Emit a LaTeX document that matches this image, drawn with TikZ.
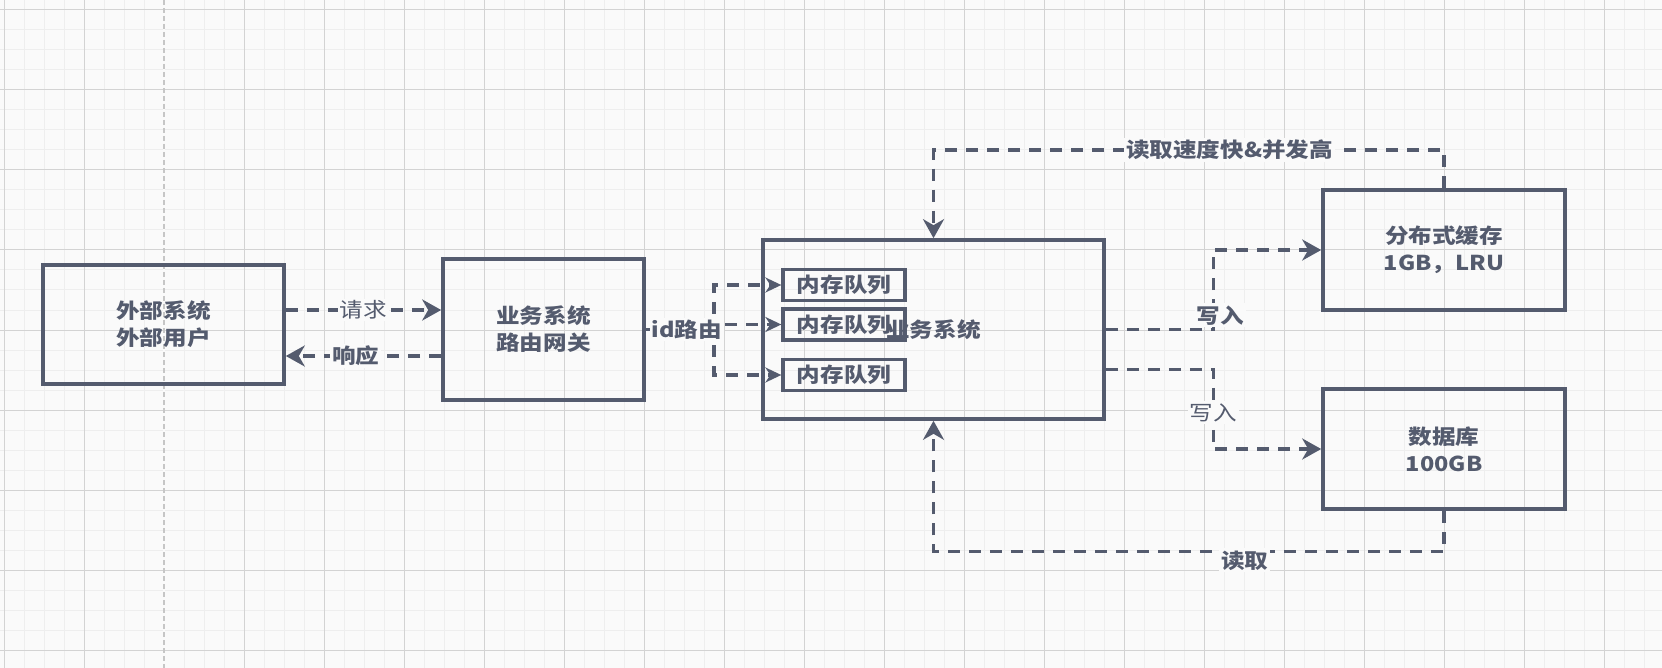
\documentclass[tikz,border=0pt]{standalone}
\usepackage{fontspec}
\setmainfont{Noto Sans CJK SC}[FakeStretch=1.15]
\usetikzlibrary{arrows.meta}

\definecolor{edgegray}{HTML}{545B6E}
\definecolor{canvas}{HTML}{FAFAFA}
\definecolor{gridminor}{HTML}{EEEEEE}
\definecolor{gridmajor}{HTML}{D3D3D3}

\tikzset{
  box/.style={draw=edgegray, line width=3.6pt, align=center, text=edgegray,
    font=\fontsize{20.5}{27}\selectfont\bfseries, inner sep=0pt},
  queue/.style={box, line width=3.3pt, minimum width=122pt, minimum height=31pt},
  flow/.style={draw=edgegray, line width=3.4pt, dash pattern=on 12pt off 9pt},
  qtip/.style={>={Stealth[length=16pt,width=15pt,inset=5pt]}},
  lbl/.style={fill=canvas, text=edgegray, inner sep=2pt,
    font=\fontsize{20.5}{24}\selectfont},
  bold/.style={font=\fontsize{20.5}{24}\selectfont\bfseries},
}

\begin{document}
\begin{tikzpicture}[x=1pt,y=-1pt,>={Stealth[length=19pt,width=21pt,inset=6pt]}]

% canvas and grid
\useasboundingbox (0,0) rectangle (1662,668);
\fill[canvas] (0,0) rectangle (1662,668);
\foreach \x in {4,24,...,1662} \draw[gridminor, line width=1pt] (\x,0) -- (\x,668);
\foreach \y in {10,30,...,668} \draw[gridminor, line width=1pt] (0,\y) -- (1662,\y);
\foreach \x in {4,84,...,1662} \draw[gridmajor, line width=1pt] (\x,0) -- (\x,668);
\foreach \y in {10,90,...,668} \draw[gridmajor, line width=1pt] (0,\y) -- (1662,\y);
\draw[canvas, line width=2pt] (164,0) -- (164,668);
\draw[gray!45, line width=1.2pt, dash pattern=on 5pt off 3pt] (164,0) -- (164,668);

% boxes
\node[box, minimum width=241pt, minimum height=119pt] (ext)   at (163.5,324.5) {外部系统\\外部用户};
\node[box, minimum width=201pt, minimum height=141pt] (gw)    at (543.5,329.5) {业务系统\\路由网关};
\node[box, minimum width=341pt, minimum height=179pt] (svc)   at (933.5,329.5) {业务系统};
\node[queue] (q1) at (844,285)   {内存队列};
\node[queue] (q2) at (844,324.5) {内存队列};
\node[queue] (q3) at (844,375)   {内存队列};
\node[box, minimum width=242pt, minimum height=120pt] (cache) at (1444,250) {分布式缓存\\1GB，LRU};
\node[box, minimum width=242pt, minimum height=120pt] (db)    at (1444,449) {数据库\\100GB};

% request / response
\coordinate (reqy)  at (0,310);
\coordinate (respy) at (0,356);
\draw[flow,->] (ext.east |- reqy) -- node[lbl]{请求} (gw.west |- reqy);
\draw[flow,->] (gw.west |- respy) -- node[lbl,bold,pos=0.55]{响应} (ext.east |- respy);

% id routing to queues
\coordinate (route) at (714,329.5);
\draw[flow,->,qtip] (gw.east) -- (route) |- (q1.west);
\draw[flow,->,qtip] (gw.east) -- (route) |- (q3.west);
\draw[flow,->,qtip] (gw.east) -- node[lbl,bold,pos=0.6]{id路由} (route) |- (q2.west);

% writes
\coordinate (wx) at (1213.5,0);
\coordinate (w2) at ([yshift=-40pt]svc.east);
\draw[flow,->] (svc.east) -- (svc.east -| wx) |- node[lbl,bold,pos=0.09,xshift=7pt]{写入} (cache.west);
\draw[flow,->] (w2) -- (w2 -| wx) |- node[lbl,pos=0.27]{写入} (db.west);

% reads
\draw[flow,->] (cache.north) -- ++(0,-38) coordinate (r1)
  -- node[lbl,bold,pos=0.42]{读取速度快\&并发高} (r1 -| svc.north) -- (svc.north);
\draw[flow,->] (db.south) -- ++(0,40.5) coordinate (r2)
  -- node[lbl,bold,pos=0.39,yshift=-9pt]{读取} (r2 -| svc.south) -- (svc.south);

\end{tikzpicture}
\end{document}
